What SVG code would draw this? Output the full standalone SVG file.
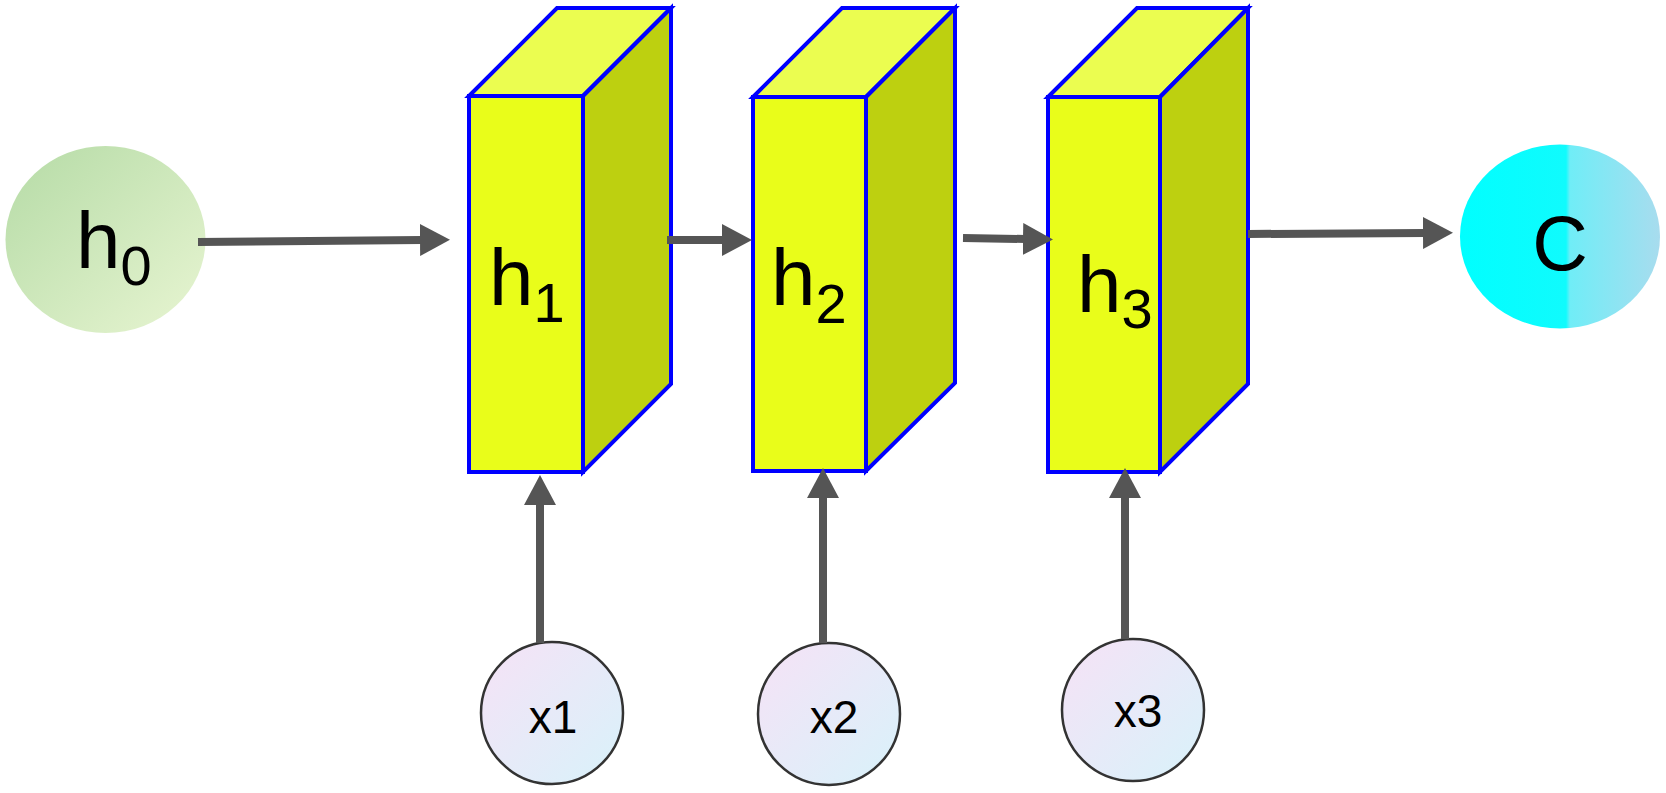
<svg xmlns="http://www.w3.org/2000/svg" width="1666" height="793" viewBox="0 0 1666 793">
<style>
.front{fill:#E9FD1A;stroke:#0000FF;stroke-width:4;stroke-linejoin:miter}
.top{fill:#EBFD50;stroke:#0000FF;stroke-width:4}
.side{fill:#BDD010;stroke:#0000FF;stroke-width:4}
.lbl{font-family:"Liberation Sans",Arial,sans-serif;fill:#000}
.conn{stroke:#555555;stroke-width:8;fill:none;marker-end:url(#arr)}
.xin{fill:url(#gx);stroke:#333333;stroke-width:2.5}
</style>
<defs>
<marker id="arr" viewBox="0 0 30 32" refX="2" refY="16" markerWidth="30" markerHeight="32" markerUnits="userSpaceOnUse" orient="auto">
<path d="M0,0 L30,16 L0,32 Z" fill="#555555"/>
</marker>
<linearGradient id="gh0" x1="0" y1="0" x2="1" y2="1">
<stop offset="0" stop-color="#B5DBA6"/>
<stop offset="1" stop-color="#E8F5D2"/>
</linearGradient>
<linearGradient id="gc" x1="0" y1="0" x2="1" y2="0">
<stop offset="0" stop-color="#00FFFF"/>
<stop offset="0.53" stop-color="#10FBFD"/>
<stop offset="0.55" stop-color="#70EDF7"/>
<stop offset="1" stop-color="#A8DCEE"/>
</linearGradient>
<linearGradient id="gx" x1="0" y1="0" x2="1" y2="1">
<stop offset="0" stop-color="#F6E2F6"/>
<stop offset="1" stop-color="#D8F2FA"/>
</linearGradient>
</defs>

<g id="h0">
<ellipse cx="105.5" cy="239.5" rx="100" ry="93.5" fill="url(#gh0)"/>
<text class="lbl" x="76" y="268" font-size="80">h<tspan font-size="56" dy="17">0</tspan></text>
</g>

<g id="h1">
<polygon class="top" points="469,96 557,8 671,8 583,96"/>
<polygon class="side" points="583,96 671,8 671,384 583,472"/>
<rect class="front" x="469" y="96" width="114" height="376"/>
<text class="lbl" x="489" y="305" font-size="80">h<tspan font-size="56" dy="17">1</tspan></text>
</g>

<g id="h2">
<polygon class="top" points="753,97 842,8 955,8 866,97"/>
<polygon class="side" points="866,97 955,8 955,383 866,471"/>
<rect class="front" x="753" y="97" width="113" height="374"/>
<text class="lbl" x="771" y="305" font-size="80">h<tspan font-size="56" dy="18">2</tspan></text>
</g>

<g id="h3">
<polygon class="top" points="1048,97 1137,8 1248,8 1160,97"/>
<polygon class="side" points="1160,97 1248,8 1248,384 1160,472"/>
<rect class="front" x="1048" y="97" width="112" height="375"/>
<text class="lbl" x="1077" y="312" font-size="80">h<tspan font-size="56" dy="16">3</tspan></text>
</g>

<g id="C">
<ellipse cx="1560" cy="236.5" rx="100" ry="92" fill="url(#gc)"/>
<text class="lbl" x="1560" y="270" font-size="77" text-anchor="middle">C</text>
</g>

<g id="x1">
<circle class="xin" cx="552" cy="713" r="71"/>
<text class="lbl" x="553" y="733" font-size="46" text-anchor="middle">x1</text>
</g>

<g id="x2">
<circle class="xin" cx="829" cy="714" r="71"/>
<text class="lbl" x="834" y="733" font-size="46" text-anchor="middle">x2</text>
</g>

<g id="x3">
<circle class="xin" cx="1133" cy="710" r="71"/>
<text class="lbl" x="1138" y="727" font-size="46" text-anchor="middle">x3</text>
</g>

<g id="connectors">
<path class="conn" d="M198,242 L422,240"/>
<path class="conn" d="M667,240 L724,240"/>
<path class="conn" d="M963,238 L1025,239"/>
<path class="conn" d="M1248,234 L1425,233"/>
<path class="conn" d="M540,643 L540,503"/>
<path class="conn" d="M823,643 L823,496"/>
<path class="conn" d="M1125,639 L1125,496"/>
</g>
</svg>
